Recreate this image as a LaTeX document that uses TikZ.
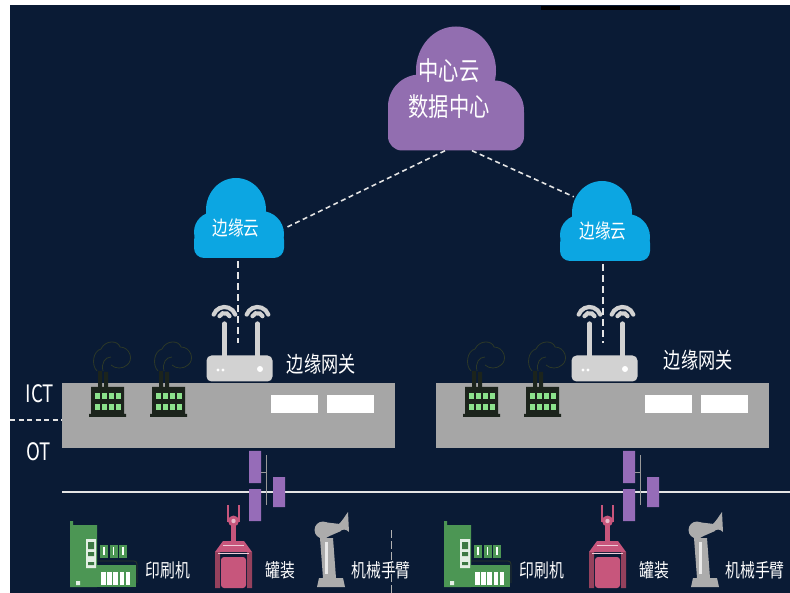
\documentclass[tikz,border=0pt]{standalone}
\usepackage{fontspec}
\setmainfont{Noto Sans CJK SC}[FakeStretch=0.78]
\usetikzlibrary{positioning}

\definecolor{bgnavy}{RGB}{12,32,62}
\definecolor{bgdark}{RGB}{10,27,53}
\definecolor{cloudpurple}{RGB}{146,110,176}
\definecolor{cloudblue}{RGB}{12,166,226}
\definecolor{platgray}{RGB}{166,166,166}
\definecolor{routergray}{RGB}{210,210,210}
\definecolor{switchpurple}{RGB}{150,108,184}
\definecolor{factorydark}{RGB}{28,36,28}
\definecolor{smokeline}{RGB}{44,56,40}
\definecolor{windowgreen}{RGB}{140,226,140}
\definecolor{printgreen}{RGB}{76,150,84}
\definecolor{canpink}{RGB}{199,86,124}
\definecolor{armgray}{RGB}{172,172,172}
\definecolor{linkwhite}{RGB}{228,228,228}

\tikzset{
  link/.style={draw=linkwhite, line width=1.6pt, dash pattern=on 5pt off 3.5pt},
  bus/.style={draw=linkwhite, line width=2pt},
  wifi/.style={draw=routergray, line width=4.2pt, line cap=round},
  smoke/.style={draw=smokeline, line width=0.8pt},
  cloudtext/.style={text=white, inner sep=0pt, align=center, font=\fontsize{26}{36}\selectfont},
  edgetext/.style={text=white, inner sep=0pt, font=\fontsize{20}{22}\selectfont},
  gwtext/.style={text=white, inner sep=0pt, font=\fontsize{22}{24}\selectfont},
  devtext/.style={text=white, inner sep=0pt, font=\fontsize{19}{22}\selectfont},
  sidetext/.style={text=white, inner sep=0pt, font=\fontsize{24}{26}\selectfont},
  platform/.style={fill=platgray, inner sep=0pt, minimum width=333, minimum height=65},
  slot/.style={fill=white, inner sep=0pt, minimum width=47, minimum height=18},
  routerbox/.style={fill=routergray, rounded corners=5pt, inner sep=0pt, minimum width=66, minimum height=26},
  % clouds, drawn around their centre
  purplecloud/.pic={
    \fill[cloudpurple] (0,-18) ellipse (40 and 44) (-36,18) circle (32) (38,22) circle (30);
    \fill[cloudpurple, rounded corners=14] (-68,10) -- (-68,62) -- (68,62) -- (68,10) -- cycle;
  },
  bluecloud/.pic={
    \fill[cloudblue] (-3,-8) ellipse (30 and 32) (-25,14) circle (20) (22,16) circle (23);
    \fill[cloudblue, rounded corners=10] (-45,12) -- (-45,40) -- (45,40) -- (45,12) -- cycle;
  },
  % router antennas and lamps
  antennas/.pic={
    \foreach \a in {-15,18} {
      \draw[wifi] (\a,-13) -- (\a,-45);
      \draw[wifi] (\a,-50) ++(205:5.5) arc (205:335:5.5);
      \draw[wifi] (\a,-50) ++(200:11.5) arc (200:340:11.5);
    }
    \fill[white] (-21.5,1.5) circle (1.6) (-16.5,1.5) circle (1.6) (20.5,0.5) circle (3);
  },
  factory/.pic={
    \draw[smoke] (6,-16) .. controls (0,-22) and (2,-36) .. (10,-38)
      .. controls (14,-47) and (27,-47) .. (29,-40)
      .. controls (39,-40) and (43,-27) .. (36,-22)
      .. controls (32,-18) and (24,-18) .. (20,-22);
    \draw[smoke] (12,-16) .. controls (10,-24) and (14,-30) .. (20,-30);
    \fill[factorydark] (7,-16) rectangle (11,0) (13,-15) rectangle (17,0);
    \fill[factorydark] (0,0) rectangle (33,28) (-2,27) rectangle (35,30);
    \foreach \col in {0,...,3}
      \foreach \row in {0,1}
        \fill[windowgreen] (4+7*\col,6+11*\row) rectangle +(5,6);
  },
  switchgroup/.pic={
    \draw[gray!80, line width=1pt] (17,4) -- (17,54) (12,21) -- (17,21);
    \fill[switchpurple] (0,0) rectangle (12,32) (0,38) rectangle (12,70) (24,26) rectangle (36,56);
  },
  printer/.pic={
    \fill[printgreen] (0,-4) rectangle (3,62) (0,0) rectangle (27,62);
    \fill[white!85!printgreen] (16,14) rectangle (26,43) (6,56) rectangle (10,60);
    \fill[printgreen!80!black] (18,17) rectangle (24,24) (18,27) rectangle (24,31) (18,37) rectangle (24,40);
    \foreach \k in {0,1,2} {
      \fill[printgreen] (30+9.5*\k,20) rectangle +(8,13);
      \fill[white] (33.4+9.5*\k,22) rectangle +(1.4,8);
    }
    \draw[smokeline, line width=0.8pt, rounded corners=3pt] (27,36) -- (67,36) -- (67,58);
    \fill[printgreen] (27,40) rectangle (66,62);
    \foreach \k in {0,...,4}
      \fill[white] (31+6.2*\k,47) rectangle +(4.6,13);
  },
  canner/.pic={
    \draw[canpink, line width=1.3pt] (15,17) -- (15,0) (26,0) -- (26,17);
    \fill[canpink] (18,20) rectangle (23,37);
    \fill[canpink] (20.5,16) circle (5.5);
    \fill[white!60!canpink] (20.5,16) circle (2.2);
    \fill[canpink] (10,36) -- (31,36) -- (39,47) -- (2,47) -- cycle;
    \fill[canpink!75!black] (2,47) rectangle (7,83) (34,47) rectangle (39,83);
    \fill[canpink, rounded corners=3pt] (8,52) rectangle (33,83);
    \draw[white!70!canpink, line width=1pt] (5,48) -- (36,48) (10,40) -- (31,40);
  },
  robot/.pic={
    \fill[armgray] (4,66) -- (28,66) -- (30,75) -- (2,75) -- cycle;
    \fill[armgray] (5,26) -- (18,26) -- (21,66) -- (8,66) -- cycle;
    \fill[armgray] (8,18) circle (8.5);
    \fill[armgray] (8,10) -- (25,12) -- (26,19) -- (10,26) -- cycle;
    \fill[armgray] (24,12) .. controls (28,8) and (30,4) .. (33,0) -- (34,20) .. controls (31,17) and (28,17) .. (25,19) -- cycle;
    \fill[white!75!armgray] (10,30) rectangle (12.5,62);
  },
}

\begin{document}
\begin{tikzpicture}[x=1pt, y=-1pt]
  \useasboundingbox (0,0) rectangle (790,593);
  \fill[white] (0,0) rectangle (790,593);
  \shade[left color=bgdark, middle color=bgnavy, right color=bgdark] (10,6) rectangle (790,593);
  \fill[black] (541,6) rectangle (680,10);

  % cloud layer
  \pic at (456,88.5) {purplecloud};
  \pic at (239,218) {bluecloud};
  \pic at (605,221) {bluecloud};
  \node[cloudtext, minimum height=123] (cc) at (449,89) {中心云\\数据中心};
  \node[edgetext, minimum width=98, minimum height=60] (ec1) at (236,228) {边缘云};
  \node[edgetext, minimum width=58, minimum height=60] (ec2) at (603,231) {边缘云};

  % gateways
  \node[routerbox] (gw1) at (239.5,368.5) {};
  \node[routerbox] (gw2) at (604.5,368.5) {};
  \pic at (gw1) {antennas};
  \pic at (gw2) {antennas};
  \node[gwtext, right=14pt of gw1, yshift=4pt] (gwt1) {边缘网关};
  \node[gwtext, right=26pt of gw2, yshift=8pt] (gwt2) {边缘网关};

  \draw[link] ([xshift=-4]cc.south) -- (ec1.east);
  \draw[link] ([xshift=23]cc.south) -- ([yshift=4]ec2.north west);
  \draw[link, dash pattern=on 7pt off 4pt] ([xshift=2,yshift=-3]ec1.south) -- ([xshift=2,yshift=12]gw1.north -| ec1.south);
  \draw[link, dash pattern=on 7pt off 4pt] ([yshift=-3]ec2.south) -- ([yshift=12]gw2.north -| ec2.south);

  % field bus
  \coordinate (bus-w) at (62,492);
  \coordinate (bus-e) at (790,492);
  \draw[bus] (bus-w) -- (bus-e);

  \foreach \dx [count=\i] in {0,374} {
    \node[platform] (p\i) at (228.5+\dx,416) {};
    \node[slot] (s\i-1) at (294+\dx,404) {};
    \node[slot] (s\i-2) at (350.5+\dx,404) {};
    \pic at (91+\dx,387) {factory};
    \pic at (152+\dx,387) {factory};
    \pic at (249+\dx,451) {switchgroup};
    \pic at (70+\dx,525) {printer};
    \pic at (213+\dx,505) {canner};
    \pic at (315+\dx,512) {robot};
    \node[devtext] (d\i-1) at (168+\dx,570) {印刷机};
    \node[devtext] (d\i-2) at (280.5+\dx,570) {罐装};
    \node[devtext] (d\i-3) at (381+\dx,570) {机械手臂};
  }

  % ICT / OT split
  \node[sidetext] (ict) at (40,394) {ICT};
  \node[sidetext] (ot) at (38.5,452) {OT};
  \coordinate (split) at (10,420);
  \draw[link] (split) -- (split -| p1.west);

  \coordinate (sep-n) at (391,530);
  \coordinate (sep-s) at (391,593);
  \draw[gray!60, line width=0.6pt, dash pattern=on 8pt off 3pt] (sep-n) -- (sep-s);
\end{tikzpicture}
\end{document}
